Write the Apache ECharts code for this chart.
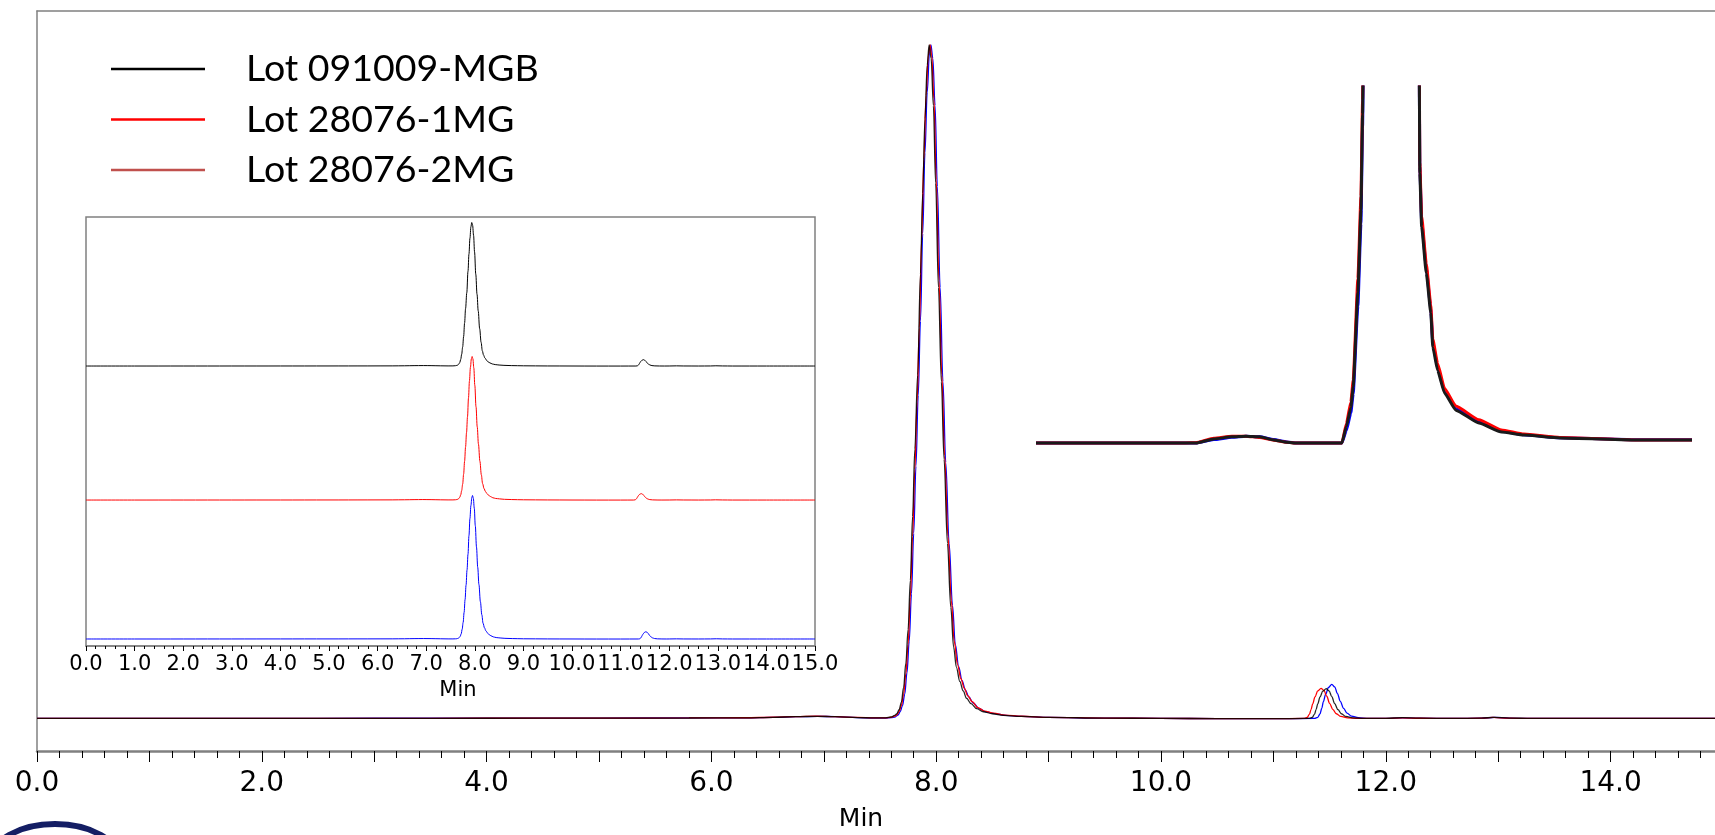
<!DOCTYPE html>
<html>
<head>
<meta charset="utf-8">
<script src="https://cdn.jsdelivr.net/npm/echarts/dist/echarts.min.js"></script>
<style>html,body{margin:0;padding:0;background:#fff}#c{width:1715px;height:835px}</style>
</head>
<body>
<div id="c"></div>
<script>
// ---------------- data ----------------
const seriesNames = ['Lot 091009-MGB', 'Lot 28076-1MG', 'Lot 28076-2MG'];
const mainTickLabels = ['0.0', '2.0', '4.0', '6.0', '8.0', '10.0', '12.0', '14.0'];
const insetTickLabels = ['0.0','1.0','2.0','3.0','4.0','5.0','6.0','7.0','8.0','9.0','10.0','11.0','12.0','13.0','14.0','15.0'];
const axisTitle = 'Min';

// [time (min), signal]
const lot091009 = [
 [0,0],[1,0],[2,0.01],[3,0.02],[4,0.03],[5,0.05],[5.8,0.07],[6.3,0.1],[6.55,0.17],[6.75,0.27],[6.94,0.32],[7.1,0.27],[7.3,0.14],[7.45,0.08],[7.55,0.1],
 [7.60,0.22],[7.63,0.45],[7.65,0.7],[7.67,1.3],[7.69,2.4],[7.71,4.6],[7.73,8.2],[7.75,13.2],[7.77,20.5],[7.79,30],[7.81,40],[7.835,51],[7.86,66],[7.88,78],[7.90,89],[7.92,97],[7.937,100],
 [7.955,98],[7.975,91],[7.995,79.5],[8.02,64],[8.046,50],[8.07,38.5],[8.10,26],[8.13,16.5],[8.155,10.6],[8.18,7.6],[8.21,5.5],[8.24,4.1],[8.27,3.0],[8.31,2.2],[8.36,1.45],[8.42,1.0],[8.50,0.7],[8.60,0.47],[8.75,0.3],[9.0,0.16],[9.5,0.05],
 [10.0,0.01],[10.5,-0.02],[11.0,-0.02],[11.315,0],[11.345,0.15],[11.365,0.6],[11.38,1.3],[11.395,2.2],[11.415,3.2],[11.44,4.05],[11.47,4.43],[11.495,4.1],[11.52,3.25],[11.545,2.2],[11.575,1.3],[11.605,0.7],[11.645,0.3],[11.705,0.1],[11.8,0.02],[11.9,0],
 [12.0,0.02],[12.15,0.12],[12.3,0.04],[12.6,0],[12.85,0.05],[12.96,0.17],[13.1,0.06],[13.3,0],[14,0],[15,0]
];
const lot28076_1 = [
 [0,0],[1,0],[2,0.01],[3,0.02],[4,0.03],[5,0.05],[5.8,0.08],[6.3,0.11],[6.55,0.18],[6.75,0.28],[6.93,0.33],[7.1,0.28],[7.3,0.15],[7.45,0.08],[7.55,0.09],
 [7.60,0.18],[7.63,0.35],[7.65,0.55],[7.67,1.0],[7.69,1.9],[7.71,3.6],[7.73,6.6],[7.75,11],[7.77,18],[7.79,27],[7.81,37],[7.83,47],[7.85,58],[7.87,71],[7.89,83],[7.91,92.5],[7.93,98.5],[7.945,100],
 [7.96,98.5],[7.98,92],[8.00,80],[8.025,65],[8.05,51],[8.075,39],[8.105,27],[8.135,17.5],[8.16,11.5],[8.19,8.0],[8.22,5.9],[8.25,4.5],[8.28,3.4],[8.32,2.5],[8.37,1.6],[8.43,1.1],[8.51,0.8],[8.61,0.5],[8.76,0.33],[9.0,0.17],[9.5,0.06],
 [10.0,0.01],[10.5,-0.02],[11.0,-0.02],[11.27,0],[11.30,0.15],[11.32,0.6],[11.335,1.3],[11.35,2.2],[11.37,3.2],[11.395,4.1],[11.424,4.48],[11.45,4.15],[11.475,3.3],[11.50,2.25],[11.53,1.3],[11.56,0.7],[11.60,0.3],[11.66,0.1],[11.75,0.02],[11.85,0],
 [12.0,0.02],[12.15,0.1],[12.3,0.03],[12.6,0],[12.85,0.04],[12.95,0.15],[13.1,0.05],[13.3,0],[14,0],[15,0]
];
const lot28076_2 = [
 [0,0],[1,0],[2,0.01],[3,0.03],[4,0.05],[5,0.06],[5.8,0.08],[6.3,0.1],[6.55,0.16],[6.75,0.26],[6.95,0.31],[7.1,0.27],[7.3,0.14],[7.45,0.07],[7.55,0.07],
 [7.60,0.12],[7.63,0.2],[7.66,0.5],[7.68,1.0],[7.70,1.9],[7.72,3.6],[7.74,6.8],[7.76,11.5],[7.78,18.5],[7.80,27.5],[7.82,37.5],[7.84,48],[7.86,59],[7.88,72],[7.90,84],[7.92,93],[7.94,98.8],[7.953,100],
 [7.97,98],[7.99,91],[8.01,79],[8.035,64],[8.06,50],[8.085,38],[8.115,26],[8.145,16.8],[8.17,11],[8.20,7.7],[8.23,5.6],[8.26,4.2],[8.29,3.2],[8.33,2.3],[8.38,1.5],[8.44,1.0],[8.52,0.72],[8.62,0.46],[8.77,0.3],[9.0,0.15],[9.5,0.05],
 [10.0,0.01],[10.5,-0.02],[11.0,-0.02],[11.365,0],[11.395,0.17],[11.415,0.68],[11.43,1.5],[11.445,2.5],[11.465,3.6],[11.49,4.6],[11.52,5.07],[11.545,4.7],[11.57,3.7],[11.595,2.55],[11.625,1.5],[11.655,0.8],[11.695,0.34],[11.755,0.11],[11.85,0.02],[11.95,0],
 [12.0,0.02],[12.15,0.1],[12.3,0.03],[12.6,0],[12.85,0.05],[12.97,0.16],[13.1,0.05],[13.3,0],[14,0],[15,0]
];

// magnified view (upper right): time and baseline-scale signal
const zoomTime  = [5.97,6.80,6.858,6.958,7.058,7.136,7.213,7.291,7.363,7.42,7.669,7.694,7.719,7.732,7.758,7.775,7.784,7.79,7.85,7.94,8.05,8.099,8.102,8.112,8.138,8.163,8.174,8.201,8.239,8.302,8.43,8.556,8.68,8.88,9.324,9.614];
const zoomBlack = [0,0,0,0.3,0.45,0.5,0.45,0.22,0.05,0,0,1.2,2.6,4.1,11,17,24,30,60,100,45,27,19.7,15.8,12.4,9.5,7.0,5.3,3.65,2.4,1.46,0.8,0.58,0.37,0.22,0.22];
const zoomRed   = [0,0,0.02,0.35,0.5,0.5,0.4,0.2,0.05,0,0,1.4,3.0,4.6,12,18,25,31,61,100,46,28,20.5,16.6,13.1,10.1,7.6,5.8,4.0,2.7,1.7,0.95,0.65,0.4,0.22,0.22];
const zoomBlue  = [0,0,0,0.25,0.42,0.5,0.45,0.25,0.08,0,0,0.9,2.2,3.6,10,16,23,29,59,100,45,27,20.2,16.2,12.8,9.8,7.3,5.5,3.8,2.5,1.55,0.85,0.6,0.38,0.23,0.23];

// ---------------- chart ----------------
const chart = echarts.init(document.getElementById('c'), null, {renderer: 'canvas'});
const pair = (arr) => zoomTime.map((t, i) => [t, arr[i]]);
const lineBase = {type: 'line', showSymbol: false, symbol: 'none', silent: true, smooth: 0.35, smoothMonotone: 'x', animation: false};
const mainLabelValues = mainTickLabels.map((s) => parseFloat(s));
const MAIN_MAX = 14.929; // visible end of the time axis (plot is cropped at the right)
const frameLine = {show: true, onZero: false, lineStyle: {color: '#808080', width: 1.5}};

const option = {
  animation: false,
  backgroundColor: '#ffffff',
  legend: {
    left: 106, top: 44, orient: 'vertical', icon: 'rect',
    itemWidth: 94, itemHeight: 2.5, itemGap: 10.5, selectedMode: false,
    textStyle: {fontFamily: 'Lato', fontSize: 37.5, color: '#000', lineHeight: 40, padding: [0, 0, 0, 36]},
    data: [
      {name: seriesNames[0], itemStyle: {color: '#000000'}},
      {name: seriesNames[1], itemStyle: {color: '#ff0000'}},
      {name: seriesNames[2], itemStyle: {color: '#C0504D'}}
    ]
  },
  grid: [
    {left: 37, top: 11, width: 1678, height: 740, show: false, outerBoundsMode: 'none'},
    {left: 86, top: 217, width: 729, height: 429, show: true, borderColor: '#808080', borderWidth: 1.5, backgroundColor: 'transparent', outerBoundsMode: 'none'},
    {left: 1036, top: 87, width: 656, height: 366, show: false, outerBoundsMode: 'none'}
  ],
  xAxis: [
    // main: line, ticks and minor ticks
    {gridIndex: 0, type: 'value', min: 0, max: MAIN_MAX, interval: 1, position: 'bottom',
     axisLine: {show: true, onZero: false, lineStyle: {color: '#808080', width: 2.5}},
     axisTick: {show: true, length: 11, lineStyle: {color: '#000', width: 1}},
     minorTick: {show: true, splitNumber: 5, length: 7, lineStyle: {color: '#000', width: 1}},
     splitLine: {show: false}, minorSplitLine: {show: false},
     axisLabel: {show: false},
     name: axisTitle, nameLocation: 'middle', nameGap: 56,
     nameTextStyle: {fontFamily: 'DejaVu Sans', fontSize: 25, color: '#000', padding: [0, 30, 0, 0]}},
    // inset
    {gridIndex: 1, type: 'value', min: 0, max: 15, interval: 1,
     axisLine: {show: true, onZero: false, lineStyle: {color: '#808080', width: 1.5}},
     axisTick: {show: true, length: 5, lineStyle: {color: '#000', width: 1}},
     minorTick: {show: true, splitNumber: 5, length: 3, lineStyle: {color: '#000', width: 1}},
     splitLine: {show: false}, minorSplitLine: {show: false},
     axisLabel: {margin: 8, fontFamily: 'DejaVu Sans', fontSize: 21, color: '#000',
       formatter: (v) => insetTickLabels[Math.round(v)] || ''},
     name: axisTitle, nameLocation: 'middle', nameGap: 30,
     nameTextStyle: {fontFamily: 'DejaVu Sans', fontSize: 21, color: '#000', padding: [0, 0, 0, 15]}},
    // magnified view
    {gridIndex: 2, type: 'value', min: 5.97, max: 9.614, show: false},
    // main: labels only (every 2 min)
    {gridIndex: 0, type: 'value', min: 0, max: MAIN_MAX, interval: 2, position: 'bottom',
     axisLine: {show: false, onZero: false}, axisTick: {show: false}, splitLine: {show: false},
     axisLabel: {show: true, margin: 19, fontFamily: 'DejaVu Sans', fontSize: 28, color: '#000',
       formatter: (v) => { const i = mainLabelValues.indexOf(Math.round(v)); return (i >= 0 && Math.abs(v - Math.round(v)) < 1e-6) ? mainTickLabels[i] : ''; }}},
    // main: top frame line
    {gridIndex: 0, type: 'value', min: 0, max: MAIN_MAX, position: 'top',
     axisLine: frameLine, axisTick: {show: false}, axisLabel: {show: false}, splitLine: {show: false}}
  ],
  yAxis: [
    {gridIndex: 0, type: 'value', min: -4.83, max: 105.05, position: 'left',
     axisLine: frameLine, axisTick: {show: false}, axisLabel: {show: false}, splitLine: {show: false}},
    {gridIndex: 1, type: 'value', min: -195.1, max: 103.85, show: false},
    {gridIndex: 1, type: 'value', min: -101.7, max: 197.2, show: false},
    {gridIndex: 1, type: 'value', min: -4.88, max: 294.07, show: false},
    {gridIndex: 2, type: 'value', min: -0.73, max: 26, show: false}
  ],
  series: [
    // main overlay
    Object.assign({}, lineBase, {name: seriesNames[2], xAxisIndex: 0, yAxisIndex: 0, data: lot28076_2, lineStyle: {color: '#0000ff', width: 1.3}, itemStyle: {color: '#0000ff'}}),
    Object.assign({}, lineBase, {name: seriesNames[1], xAxisIndex: 0, yAxisIndex: 0, data: lot28076_1, lineStyle: {color: '#ff0000', width: 1.3}, itemStyle: {color: '#ff0000'}}),
    Object.assign({}, lineBase, {name: seriesNames[0], xAxisIndex: 0, yAxisIndex: 0, data: lot091009, lineStyle: {color: '#000000', width: 1.3, opacity: 0.85}, itemStyle: {color: '#000000'}}),
    // stacked inset
    Object.assign({}, lineBase, {name: seriesNames[0], xAxisIndex: 1, yAxisIndex: 1, data: lot091009, lineStyle: {color: '#000000', width: 1}, itemStyle: {color: '#000000'}}),
    Object.assign({}, lineBase, {name: seriesNames[1], xAxisIndex: 1, yAxisIndex: 2, data: lot28076_1, lineStyle: {color: '#ff0000', width: 1}, itemStyle: {color: '#ff0000'}}),
    Object.assign({}, lineBase, {name: seriesNames[2], xAxisIndex: 1, yAxisIndex: 3, data: lot28076_2, lineStyle: {color: '#0000ff', width: 1}, itemStyle: {color: '#0000ff'}}),
    // magnified view
    Object.assign({}, lineBase, {name: seriesNames[2], xAxisIndex: 2, yAxisIndex: 4, smooth: 0.15, data: pair(zoomBlue), lineStyle: {color: '#0000ff', width: 3}, itemStyle: {color: '#0000ff'}}),
    Object.assign({}, lineBase, {name: seriesNames[1], xAxisIndex: 2, yAxisIndex: 4, smooth: 0.15, data: pair(zoomRed), lineStyle: {color: '#ff0000', width: 3}, itemStyle: {color: '#ff0000'}}),
    Object.assign({}, lineBase, {name: seriesNames[0], xAxisIndex: 2, yAxisIndex: 4, smooth: 0.15, data: pair(zoomBlack), lineStyle: {color: '#1a1a1a', width: 3}, itemStyle: {color: '#1a1a1a'}})
  ],
  graphic: [
    {type: 'ellipse', silent: true, shape: {cx: 55, cy: 862, rx: 65, ry: 38},
     style: {stroke: '#141e64', lineWidth: 6, fill: null}}
  ]
};
chart.setOption(option);
</script>
</body>
</html>
